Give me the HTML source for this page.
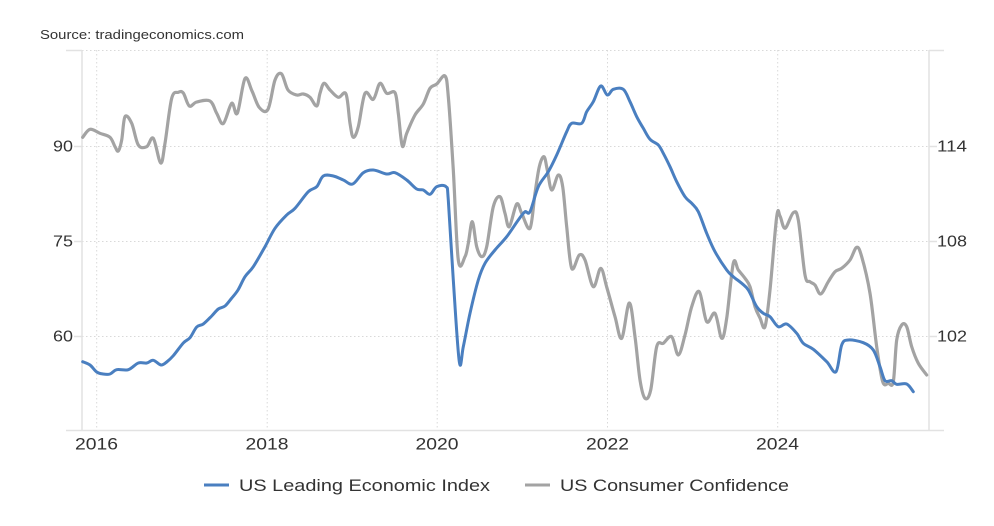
<!DOCTYPE html>
<html>
<head>
<meta charset="utf-8">
<style>
  html,body{margin:0;padding:0;background:#fff;}
  body{width:994px;height:526px;overflow:hidden;}
  svg{display:block;}
  text{font-family:"Liberation Sans",Arial,sans-serif;fill:#333;}
</style>
</head>
<body>
<svg id="chart" width="994" height="526" viewBox="0 0 994 526" xmlns="http://www.w3.org/2000/svg">
  <rect width="994" height="526" fill="#fff"/>
  <!-- Source -->
  <text x="40" y="39" font-size="13" textLength="204" lengthAdjust="spacingAndGlyphs">Source: tradingeconomics.com</text>

  <!-- gridlines horizontal -->
  <g stroke="#d9d9d9" stroke-width="1" stroke-dasharray="1.5 2.5" fill="none">
    <line x1="82" y1="50.5" x2="929" y2="50.5"/>
    <line x1="82" y1="146.5" x2="929" y2="146.5"/>
    <line x1="82" y1="241.5" x2="929" y2="241.5"/>
    <line x1="82" y1="336.5" x2="929" y2="336.5"/>
    <!-- vertical -->
    <line x1="96.7" y1="50" x2="96.7" y2="430"/>
    <line x1="267.2" y1="50" x2="267.2" y2="430"/>
    <line x1="437.2" y1="50" x2="437.2" y2="430"/>
    <line x1="607.5" y1="50" x2="607.5" y2="430"/>
    <line x1="777.7" y1="50" x2="777.7" y2="430"/>
  </g>
  <!-- axes -->
  <g stroke="#e2e2e2" stroke-width="1.5" fill="none">
    <line x1="82" y1="50" x2="82" y2="430"/>
    <line x1="929" y1="50" x2="929" y2="430"/>
    <line x1="66" y1="430.5" x2="944" y2="430.5"/>
    <line x1="66" y1="50.5" x2="82" y2="50.5"/>
    <line x1="929" y1="50.5" x2="944" y2="50.5"/>
    <line x1="74" y1="146.5" x2="82" y2="146.5"/>
    <line x1="74" y1="241.5" x2="82" y2="241.5"/>
    <line x1="74" y1="336.5" x2="82" y2="336.5"/>
    <line x1="929" y1="146.5" x2="937" y2="146.5"/>
    <line x1="929" y1="241.5" x2="937" y2="241.5"/>
    <line x1="929" y1="336.5" x2="937" y2="336.5"/>
  </g>

  <!-- left labels -->
  <g font-size="16" text-anchor="end">
    <text x="73" y="151.5" textLength="20" lengthAdjust="spacingAndGlyphs">90</text>
    <text x="73" y="246.5" textLength="20" lengthAdjust="spacingAndGlyphs">75</text>
    <text x="73" y="341.5" textLength="20" lengthAdjust="spacingAndGlyphs">60</text>
  </g>
  <!-- right labels -->
  <g font-size="16">
    <text x="937" y="151.5" textLength="30" lengthAdjust="spacingAndGlyphs">114</text>
    <text x="937" y="246.5" textLength="30" lengthAdjust="spacingAndGlyphs">108</text>
    <text x="937" y="341.5" textLength="30" lengthAdjust="spacingAndGlyphs">102</text>
  </g>
  <!-- x labels -->
  <g font-size="17">
    <text x="75" y="449.5" textLength="43" lengthAdjust="spacingAndGlyphs">2016</text>
    <text x="245.5" y="449.5" textLength="43" lengthAdjust="spacingAndGlyphs">2018</text>
    <text x="415.5" y="449.5" textLength="43" lengthAdjust="spacingAndGlyphs">2020</text>
    <text x="586" y="449.5" textLength="43" lengthAdjust="spacingAndGlyphs">2022</text>
    <text x="756" y="449.5" textLength="43" lengthAdjust="spacingAndGlyphs">2024</text>
  </g>

  <!-- grey series: US Consumer Confidence -->
  <polyline class="smooth" fill="none" stroke="#a3a3a3" stroke-width="3.2" stroke-linejoin="round" stroke-linecap="round"
    points="82.7,137.3 90,129.3 100,133.3 110,137.3 115,146.7 118.3,151 121.7,140 125,116.7 131.7,123.3 138.3,145 146.7,146.7 153.3,138.3 160.7,163 165,143.3 171.7,98.3 178.3,92.3 183.3,93 189.3,106 196.7,102 210,101 216.7,113.3 223.3,123.5 231.7,103.3 237.3,113.3 245,78.5 252,91 259.3,107.5 268,109.3 275,80 281.5,73.8 288,90 296.7,95 303.3,94 310,97.3 316.7,106 320,93.3 324,83.3 330,90 338.3,97.3 346,94 350,123.3 353.3,137.3 358.3,126.7 365,93.3 373.3,99.3 380,83.3 386.7,93.3 395,92.7 398.3,113.3 402.3,146 406.7,133.3 415,115 423.3,104 430,88.3 436.7,84 445,76 448.3,96.7 453.3,170 458.3,260 465,256.7 468.3,243.3 472.3,221.7 476.7,246.7 481.7,256.7 486.7,246.7 493.3,206.7 500,196.7 505,213.3 509.3,226.7 516.7,204 521.7,213.3 530,228.3 535,193.3 539.3,166.7 544,156.7 547.3,170 551.7,190 558.3,175 562.7,186.7 566.7,226.7 571.7,268.3 579.3,255 585,260 593.3,286.7 600.7,268.3 606.7,287 615,316.7 621.7,338.3 629.3,303 635,336.7 640,380 645,398.3 650.7,390 656.7,346.7 663.3,343.3 671.7,336.7 678.3,355 685,335 691.7,306.7 699.3,291.7 706.7,321.7 715,313.3 721.7,338.3 726.7,318.3 733.3,263.3 738.3,270 745,278.3 750,286.7 755,306.7 760,318 765,326.7 770,290 776.7,216.7 780,216 785,228.3 793.3,212.7 798.3,220 805,275 810,281.7 815,285 820.7,294 828.3,281.7 835,271.7 841.7,268.3 850,260 856.7,247.3 861.7,256.7 870,293.3 876.7,346.7 882.7,381.7 888.3,383.3 893.3,381.7 896.7,340 901.7,325 906.7,326.7 911.7,346.7 918.3,363.3 926.7,375"/>

  <!-- blue series: US Leading Economic Index -->
  <polyline class="smooth" fill="none" stroke="#4a7fc0" stroke-width="3" stroke-linejoin="round" stroke-linecap="round"
    points="82.7,361.7 90,365 96.7,372 103,374 110,374 116.7,369.7 128.3,369.7 138.3,363 146.7,363 153.3,360.3 161,365 166.7,362 173.3,355.7 183.3,343 190,337.7 196.7,327 203.3,324 211.7,316 218.3,309 225,306 231,299 238,290 245,276.7 253.3,266.7 265,246.7 275,228.3 286.7,215 295,208.3 308.3,191.7 316.7,186.7 323.3,176 333.3,176 343.3,180 352.7,184 363.3,172.7 373.3,170 386.7,174 395,172.7 406.7,180 416.7,189 423.3,190 430,194.3 436.7,186.7 446,186.7 448.3,200 453.3,280 459.3,361.7 463.3,346.7 470,313.3 478.3,280 485,263.3 495,250 506.7,236.7 518.3,220 525,211.7 530,211.7 538.3,186.7 548.3,171.7 556.7,155 566.7,131.7 571.7,123.3 581.7,123.3 586.7,111.7 593.3,101.7 600.7,86 607.3,95 613.3,89.3 623.3,89.3 630,101.7 636.7,116.7 643.3,128.3 650,139.3 658.3,145 663.3,153.3 670,166.7 676.7,181.7 685,196.7 691.7,203.3 698.3,211.7 706.7,233.3 715,251.7 726.7,270 733.3,276.7 741.7,283.3 748.3,290 756.7,306.7 763.3,313.3 770,316.7 778.3,326.7 786.7,324 796.7,333.3 803.3,343.3 813.3,349.3 826.7,361.7 836,371.7 841.7,345 848.3,340 863.3,342.7 873.3,350 880,366.7 885,380.7 891.7,380.7 896.7,384.3 906.7,384 913.3,391.7"/>

  <!-- legend -->
  <line x1="204" y1="485" x2="229" y2="485" stroke="#4a7fc0" stroke-width="3"/>
  <text x="239" y="491" font-size="17" textLength="251" lengthAdjust="spacingAndGlyphs">US Leading Economic Index</text>
  <line x1="525" y1="485" x2="550" y2="485" stroke="#a3a3a3" stroke-width="3"/>
  <text x="560" y="491" font-size="17" textLength="229" lengthAdjust="spacingAndGlyphs">US Consumer Confidence</text>
</svg>
<script>
(function(){
  try{
    var NS="http://www.w3.org/2000/svg";
    var pls=document.querySelectorAll("polyline.smooth");
    for(var k=0;k<pls.length;k++){
      var pl=pls[k];
      var raw=pl.getAttribute("points").trim().split(/\s+/);
      var pts=raw.map(function(s){var a=s.split(",");return [parseFloat(a[0]),parseFloat(a[1])];});
      var d="M"+pts[0][0]+","+pts[0][1];
      for(var i=0;i<pts.length-1;i++){
        var p0=pts[i-1]||pts[i],p1=pts[i],p2=pts[i+1],p3=pts[i+2]||pts[i+1];
        var c1x=p1[0]+(p2[0]-p0[0])/6,c1y=p1[1]+(p2[1]-p0[1])/6;
        var c2x=p2[0]-(p3[0]-p1[0])/6,c2y=p2[1]-(p3[1]-p1[1])/6;
        d+=" C"+c1x.toFixed(2)+","+c1y.toFixed(2)+" "+c2x.toFixed(2)+","+c2y.toFixed(2)+" "+p2[0]+","+p2[1];
      }
      var path=document.createElementNS(NS,"path");
      path.setAttribute("d",d);
      ["fill","stroke","stroke-width","stroke-linejoin","stroke-linecap"].forEach(function(a){path.setAttribute(a,pl.getAttribute(a));});
      pl.parentNode.replaceChild(path,pl);
    }
  }catch(e){}
})();
</script>
</body>
</html>
